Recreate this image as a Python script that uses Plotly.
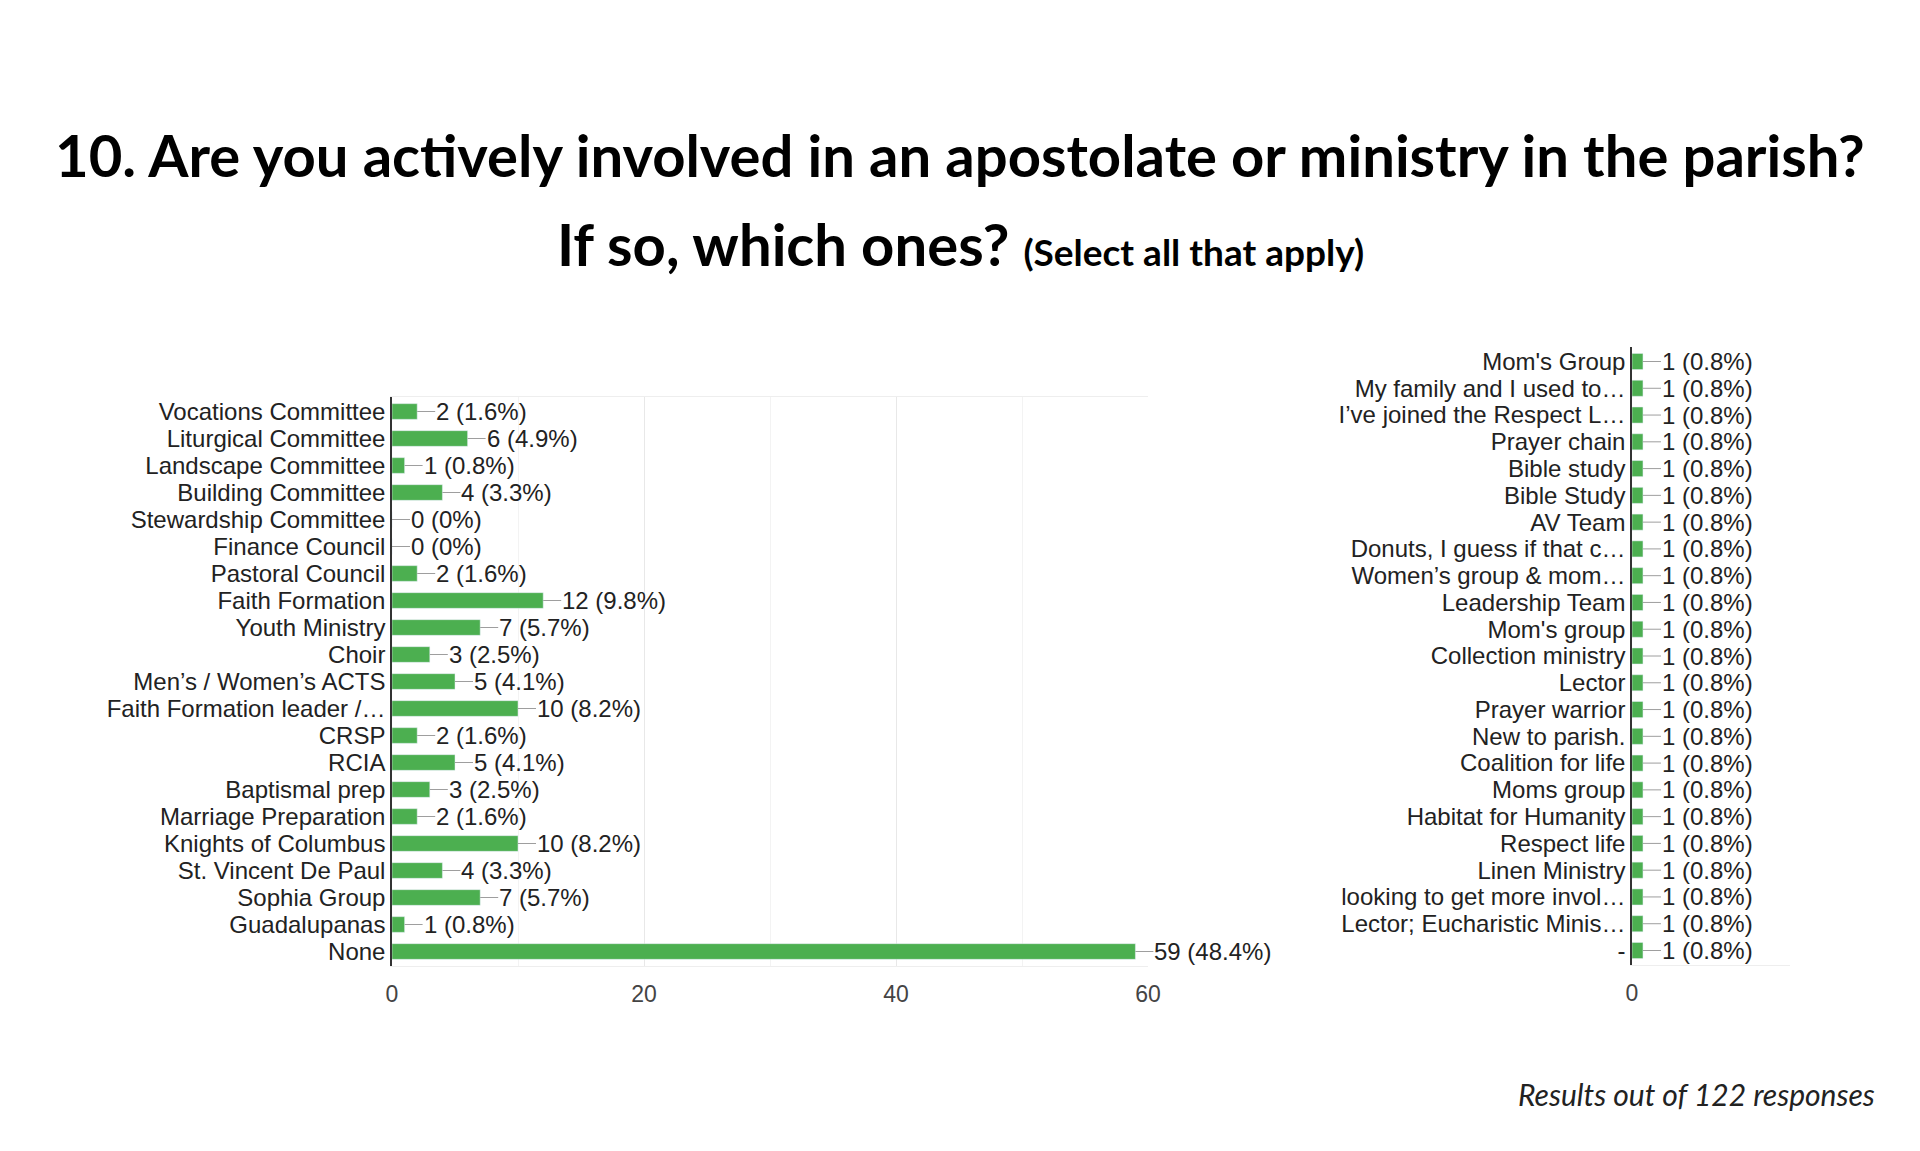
import plotly.graph_objects as go

# survey answers (question 10)
left_categories = [
    "Vocations Committee", "Liturgical Committee", "Landscape Committee",
    "Building Committee", "Stewardship Committee", "Finance Council",
    "Pastoral Council", "Faith Formation", "Youth Ministry", "Choir",
    "Men’s / Women’s ACTS", "Faith Formation leader /…", "CRSP", "RCIA",
    "Baptismal prep", "Marriage Preparation", "Knights of Columbus",
    "St. Vincent De Paul", "Sophia Group", "Guadalupanas", "None",
]
left_counts = [2, 6, 1, 4, 0, 0, 2, 12, 7, 3, 5, 10, 2, 5, 3, 2, 10, 4, 7, 1, 59]

right_categories = [
    "Mom's Group", "My family and I used to…", "I’ve joined the Respect L…",
    "Prayer chain", "Bible study", "Bible Study", "AV Team",
    "Donuts, I guess if that c…", "Women’s group &amp; mom…", "Leadership Team",
    "Mom's group", "Collection ministry", "Lector", "Prayer warrior",
    "New to parish.", "Coalition for life", "Moms group",
    "Habitat for Humanity", "Respect life", "Linen Ministry",
    "looking to get more invol…", "Lector; Eucharistic Minis…", "-",
]
right_counts = [1, 1, 1, 1, 1, 1, 1, 1, 1, 1, 1, 1, 1, 1, 1, 1, 1, 1, 1, 1, 1, 1, 1]

total_responses = 122

GREEN = "#4caf50"
TEXT = "#222222"
LABEL_FONT = "Arial, Liberation Sans, sans-serif"
TITLE_FONT = "Lato, Open Sans, sans-serif"

# the page body has an 8px margin, so the figure is a bit smaller than the window
OFF = 8
W, H = 1920 - 2 * OFF, 1151 - 2 * OFF


def px(x):
    return (x - OFF) / W


def py(y):
    return 1 - (y - OFF) / H


def label(n):
    pct = round(n / total_responses * 100, 1)
    return f"{n} ({pct:g}%)"


fig = go.Figure()

fig.add_trace(go.Bar(
    x=left_counts, y=left_categories, orientation="h",
    marker_color=GREEN, width=0.58,
    xaxis="x", yaxis="y", hoverinfo="x+y",
))
fig.add_trace(go.Bar(
    x=right_counts, y=right_categories, orientation="h",
    marker_color=GREEN, width=0.6,
    xaxis="x2", yaxis="y2", hoverinfo="x+y",
))

# value labels with the little grey leader line
annotations = []
for cats, counts, xr, yr in [(left_categories, left_counts, "x", "y"),
                             (right_categories, right_counts, "x2", "y2")]:
    for c, n in zip(cats, counts):
        annotations.append(dict(
            x=n, y=c, xref=xr, yref=yr,
            text=label(n), showarrow=True, arrowhead=0, arrowwidth=1,
            arrowcolor="#9e9e9e", ax=18, ay=0, xanchor="left",
            borderpad=0, standoff=0,
            font=dict(family=LABEL_FONT, size=24, color=TEXT),
        ))

# title lines and footer
annotations.append(dict(
    text="<b>10. Are you actively involved in an apostolate or ministry in the parish?</b>",
    x=px(960), y=py(155), xref="paper", yref="paper", showarrow=False,
    xanchor="center", yanchor="middle",
    font=dict(family=TITLE_FONT, size=58, color="#000000"),
))
annotations.append(dict(
    text="<b>If so, which ones? <span style='font-size:37px'>(Select all that apply)</span></b>",
    x=px(960), y=py(243), xref="paper", yref="paper", showarrow=False,
    xanchor="center", yanchor="middle",
    font=dict(family=TITLE_FONT, size=58, color="#000000"),
))
annotations.append(dict(
    text="<i>Results out of 122 responses</i>",
    x=px(1877), y=py(1094), xref="paper", yref="paper", showarrow=False,
    xanchor="right", yanchor="middle",
    font=dict(family=TITLE_FONT, size=30, color=TEXT),
))

fig.update_layout(
    width=W, height=H,
    margin=dict(l=0, r=0, t=0, b=0),
    paper_bgcolor="white", plot_bgcolor="white",
    showlegend=False,
    annotations=annotations,
    xaxis=dict(
        domain=[px(392), px(1148)], range=[0, 60],
        tickvals=[0, 20, 40, 60], showgrid=True, gridcolor="#e8e8e8",
        minor=dict(dtick=10, showgrid=True, gridcolor="#f3f3f3"),
        showline=True, mirror=True, linecolor="#eeeeee", zeroline=False,
        tickfont=dict(family=LABEL_FONT, size=23, color="#444444"),
        ticklabelstandoff=7, automargin=False,
    ),
    yaxis=dict(
        domain=[py(966), py(397)],
        categoryorder="array", categoryarray=left_categories,
        tickmode="array", tickvals=left_categories,
        autorange="reversed", showgrid=False,
        showline=True, linecolor="#333333", linewidth=1.5,
        tickfont=dict(family=LABEL_FONT, size=24, color=TEXT),
        automargin=False,
    ),
    xaxis2=dict(
        domain=[px(1632), px(1790)], range=[0, 14.4],
        tickvals=[0], showgrid=False, zeroline=False,
        showline=True, linecolor="#eeeeee", anchor="y2",
        tickfont=dict(family=LABEL_FONT, size=23, color="#444444"),
        ticklabelstandoff=7, automargin=False,
    ),
    yaxis2=dict(
        domain=[py(965), py(347)], anchor="x2",
        categoryorder="array", categoryarray=right_categories,
        tickmode="array", tickvals=right_categories,
        autorange="reversed", showgrid=False,
        showline=True, linecolor="#333333", linewidth=1.5,
        tickfont=dict(family=LABEL_FONT, size=24, color=TEXT),
        automargin=False,
    ),
)

fig.write_html("out.html")
